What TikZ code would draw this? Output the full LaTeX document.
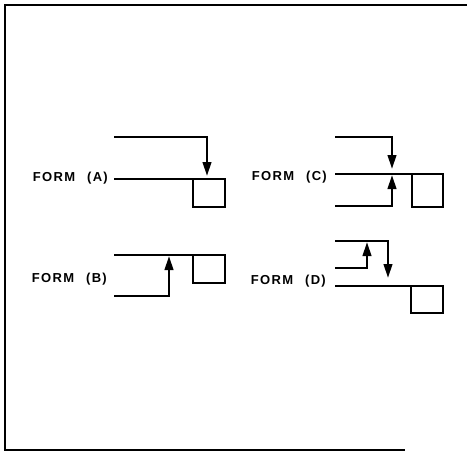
\documentclass[tikz,border=0pt]{standalone}
\usepackage{fontspec}
\setmainfont{Liberation Sans}[LetterSpace=10]
\usetikzlibrary{arrows.meta}
\tikzset{
  ln/.style={line width=2.4pt, line cap=rect},
  arr/.style={ln, -{Triangle[length=14pt,width=8.5pt]}},
  lbl/.style={anchor=east, inner sep=0pt, font=\fontsize{13}{14}\selectfont\bfseries},
  frame/.style={line width=2.2pt},
  boxx/.style={line width=2.4pt}
}
\begin{document}
\begin{tikzpicture}[x=1pt,y=-1pt]
\useasboundingbox (0,0) rectangle (467,451);
% frame
\coordinate (f1) at (467,5);
\coordinate (f2) at (5,5);
\coordinate (f3) at (5,450);
\coordinate (f4) at (405,450);
\draw[frame] (f1) -- (f2) -- (f3) -- (f4);

% FORM (A)
\node[lbl] (la) at (108,178) {FORM\hspace{12pt}(A)};
\coordinate (a1) at (115,137);
\coordinate (a2) at (207,137);
\coordinate (a3) at (207,176);
\draw[arr] (a1) -- (a2) -- (a3);
\coordinate (a4) at (115,179);
\coordinate (a5) at (193,179);
\coordinate (a6) at (225,207);
\draw[ln] (a4) -- (a5);
\draw[boxx] (a5) rectangle (a6);

% FORM (B)
\node[lbl] (lb) at (107,279) {FORM\hspace{12pt}(B)};
\coordinate (b1) at (115,255);
\coordinate (b2) at (193,255);
\coordinate (b3) at (225,283);
\draw[ln] (b1) -- (b2);
\draw[boxx] (b2) rectangle (b3);
\coordinate (b4) at (115,296);
\coordinate (b5) at (169,296);
\coordinate (b6) at (169,256);
\draw[arr] (b4) -- (b5) -- (b6);

% FORM (C)
\node[lbl] (lc) at (327,177) {FORM\hspace{12pt}(C)};
\coordinate (c1) at (336,137);
\coordinate (c2) at (392,137);
\coordinate (c3) at (392,169);
\draw[arr] (c1) -- (c2) -- (c3);
\coordinate (c4) at (336,174);
\coordinate (c5) at (412,174);
\coordinate (c6) at (443,207);
\draw[ln] (c4) -- (c5);
\draw[boxx] (c5) rectangle (c6);
\coordinate (c7) at (336,206);
\coordinate (c8) at (392,206);
\coordinate (c9) at (392,175);
\draw[arr] (c7) -- (c8) -- (c9);

% FORM (D)
\node[lbl] (ld) at (326,281) {FORM\hspace{12pt}(D)};
\coordinate (d1) at (336,241);
\coordinate (d2) at (388,241);
\coordinate (d3) at (388,278);
\draw[arr] (d1) -- (d2) -- (d3);
\coordinate (d4) at (336,268);
\coordinate (d5) at (367,268);
\coordinate (d6) at (367,242);
\draw[arr] (d4) -- (d5) -- (d6);
\coordinate (d7) at (336,286);
\coordinate (d8) at (411,286);
\coordinate (d9) at (443,313);
\draw[ln] (d7) -- (d8);
\draw[boxx] (d8) rectangle (d9);
\end{tikzpicture}
\end{document}
